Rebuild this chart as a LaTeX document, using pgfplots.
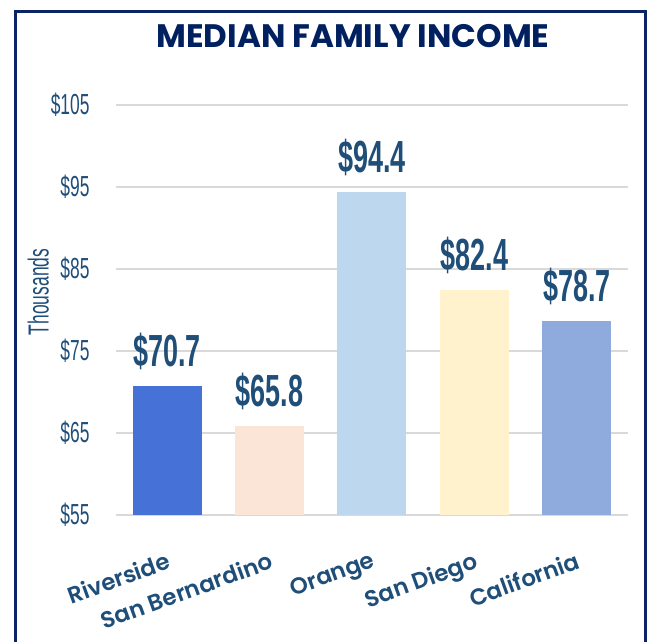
\documentclass[border=0pt]{standalone}
\usepackage{pgfplots}
\pgfplotsset{compat=1.18}
\usepackage{fontspec}
\setmainfont{Liberation Sans}
\newfontfamily\condfont[FakeStretch=0.6]{Liberation Sans}
\newfontfamily\poppins{Poppins}
\newfontfamily\poppinssb{Poppins SemiBold}
\definecolor{framec}{HTML}{0B2466}
\definecolor{titlec}{HTML}{002060}
\definecolor{labc}{HTML}{1F4E79}
\definecolor{gridc}{HTML}{D9D9D9}
\definecolor{c1}{HTML}{4672D8}
\definecolor{c2}{HTML}{FBE5D6}
\definecolor{c3}{HTML}{BDD7EE}
\definecolor{c4}{HTML}{FFF2CC}
\definecolor{c5}{HTML}{8FAADC}
\pgfplotsset{/pgf/number format/assume math mode=true}
\begin{document}
\begin{tikzpicture}[x=1pt,y=1pt]
\useasboundingbox (0,0) rectangle (651,641);
\draw[line width=3pt, color=framec] (15.5,-20) -- (15.5,629.5) -- (645.5,629.5) -- (645.5,-20);
\node[font=\poppins\bfseries\fontsize{32.5}{40}\selectfont, text=titlec] at (353,605) {MEDIAN FAMILY INCOME};
\begin{axis}[
  at={(116pt,126pt)}, anchor=south west,
  width=512pt, height=410pt, scale only axis,
  xmin=-0.5, xmax=4.5, ymin=55, ymax=105,
  ytick={55,65,...,105},
  yticklabel={\$\pgfmathprintnumber{\tick}},
  yticklabel style={font=\condfont\fontsize{29}{30}\selectfont, text=labc, anchor=east, xshift=-23pt},
  axis line style={draw=none}, major tick style={draw=none},
  ymajorgrids, grid style={draw=gridc, line width=1.5pt},
  xtick={0,1,2,3,4},
  xticklabels={Riverside, San Bernardino, Orange, San Diego, California},
  xticklabel style={rotate=20, anchor=north east, inner sep=0pt, font=\poppinssb\fontsize{23}{24}\selectfont, text=labc, yshift=-29pt, xshift=-12pt},
  ylabel={Thousands},
  ylabel style={at={(rel axis cs:-0.152,0.544)}, anchor=center, font=\condfont\fontsize{29}{30}\selectfont, text=labc},
  ybar, bar width=69pt,
  nodes near coords={\$\pgfmathprintnumber[fixed,fixed zerofill,precision=1]{\pgfplotspointmeta}},
  every node near coord/.append style={font=\condfont\bfseries\fontsize{45}{48}\selectfont, text=labc, anchor=south, inner sep=0pt, yshift=16pt},
  clip=false,
]
\addplot[fill=c1, draw=none, bar shift=0pt] coordinates {(0,70.7)};
\addplot[fill=c2, draw=none, bar shift=0pt] coordinates {(1,65.8)};
\addplot[fill=c3, draw=none, bar shift=0pt] coordinates {(2,94.4)};
\addplot[fill=c4, draw=none, bar shift=0pt] coordinates {(3,82.4)};
\addplot[fill=c5, draw=none, bar shift=0pt] coordinates {(4,78.7)};
\end{axis}
\end{tikzpicture}
\end{document}
